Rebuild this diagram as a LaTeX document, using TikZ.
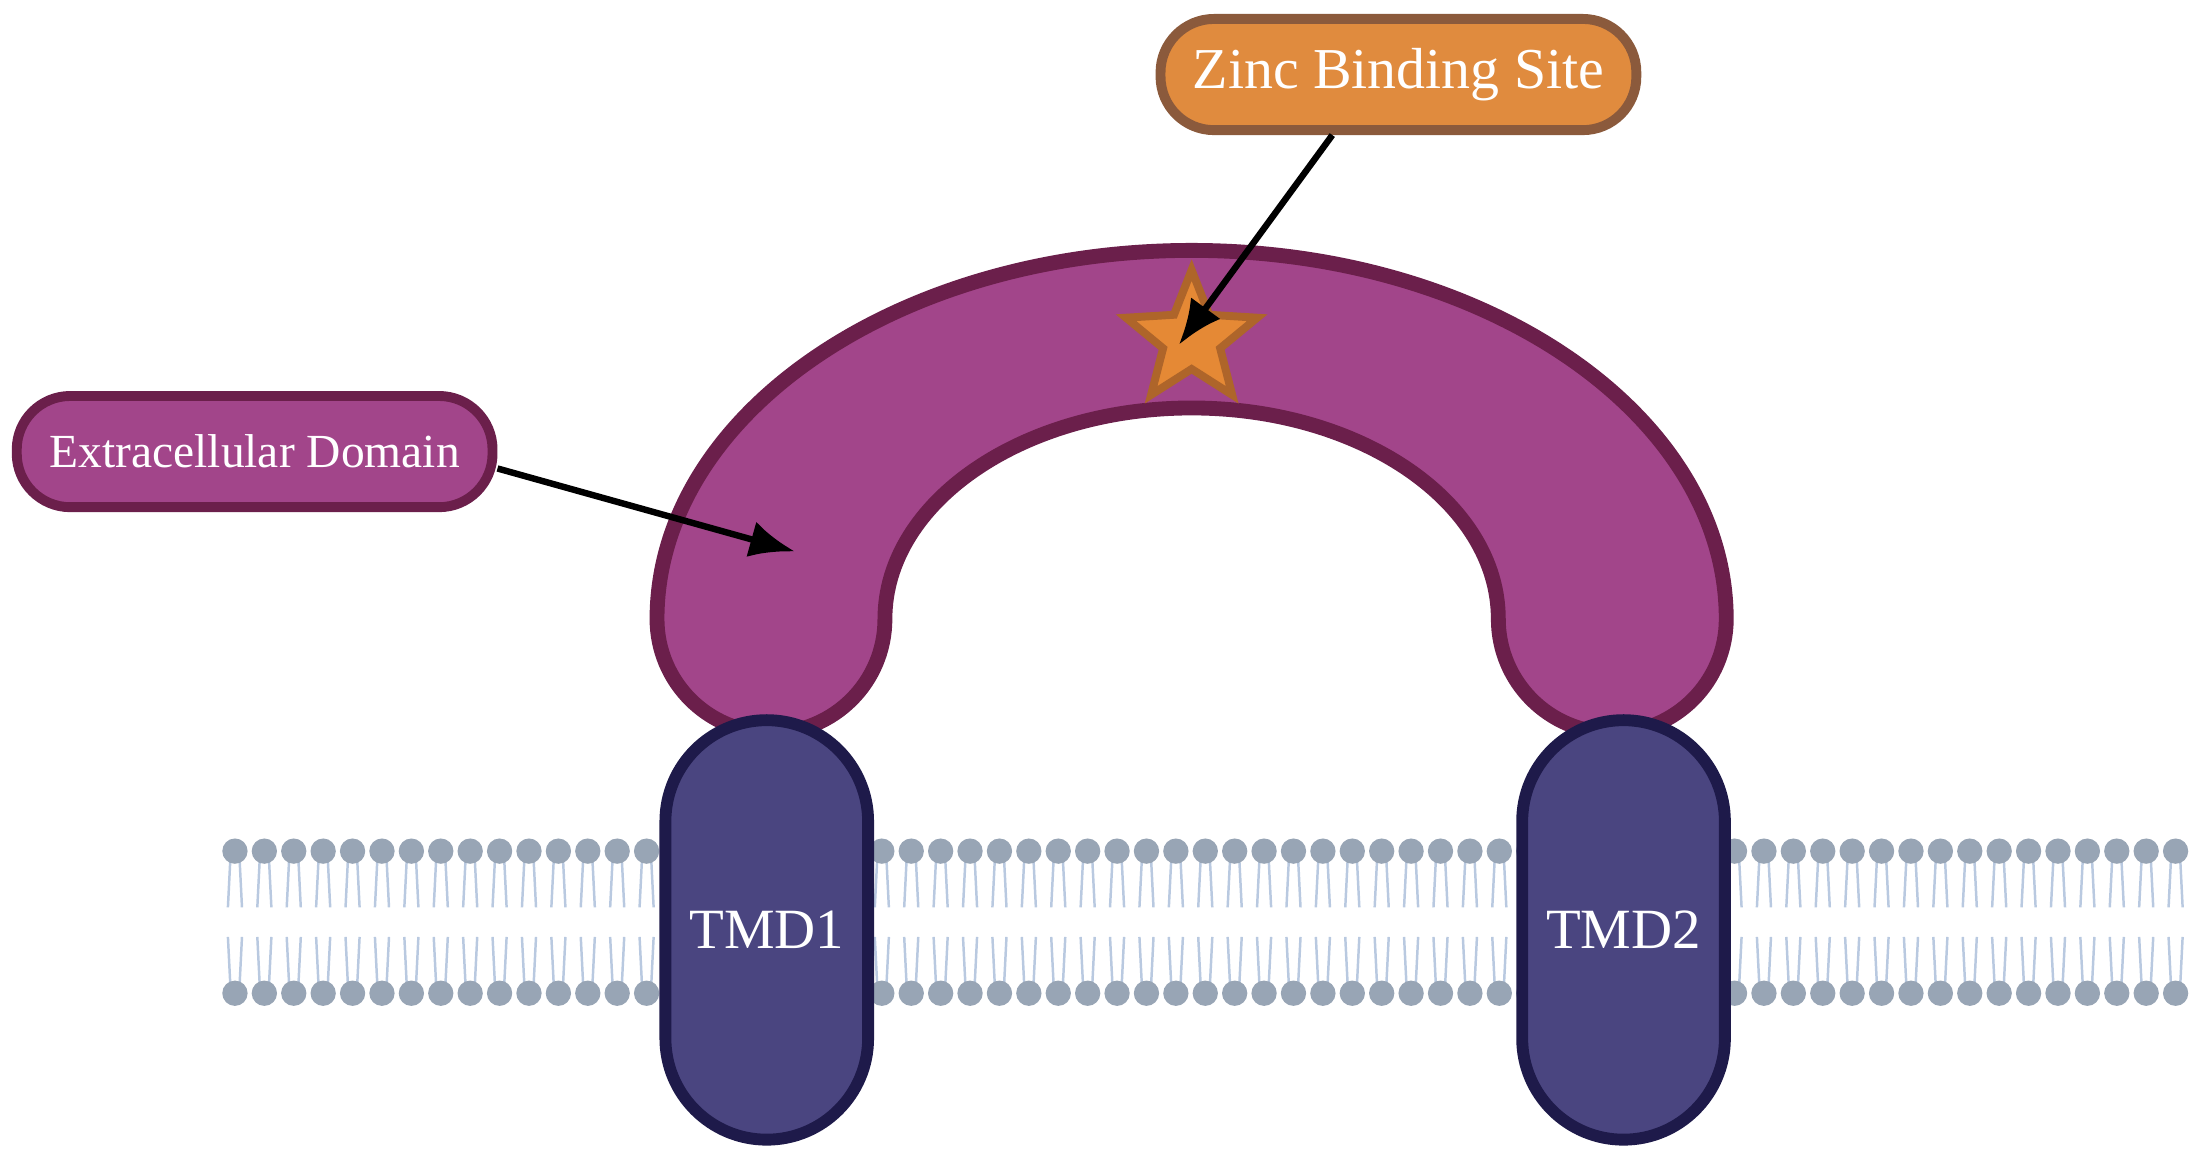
\documentclass[tikz,border=0pt]{standalone}
\usepackage{fontspec}
\setmainfont{Liberation Serif}
\usetikzlibrary{shapes.geometric,arrows.meta}
\definecolor{domain}{HTML}{A2458A}
\definecolor{domainedge}{HTML}{6B1F4B}
\definecolor{tmd}{HTML}{4A4580}
\definecolor{tmdedge}{HTML}{1E1A4A}
\definecolor{zinc}{HTML}{E08B3E}
\definecolor{zincedge}{HTML}{8B5A3C}
\definecolor{lipidhead}{HTML}{98A5B5}
\definecolor{lipidtail}{HTML}{B9C9E0}
\tikzset{
  label box/.style={rounded corners=0.38cm, line width=2pt, text=white, inner sep=0pt,
    minimum width=3.38cm, minimum height=0.79cm, font=\fontsize{9.6}{11}\selectfont},
  tm/.style={rounded corners=0.72cm, fill=tmd, draw=tmdedge, line width=2.4pt, inner sep=0pt,
    minimum width=1.44cm, minimum height=2.98cm, text=white, font=\fontsize{11.5}{13}\selectfont},
  pointer/.style={line width=1.3pt, -{Latex[length=0.32cm,width=0.26cm]}}
}
\begin{document}
\begin{tikzpicture}[x=0.01cm,y=0.01cm]
    \useasboundingbox (0,0) rectangle (1568,822);
    % membrane
    \foreach \i in {0,...,66} {
        \pgfmathsetmacro{\xx}{167+\i*20.9}
        \draw[lipidtail, line width=0.5pt] (\xx-3,217) -- (\xx-5,177) (\xx+3,217) -- (\xx+5,177);
        \draw[lipidtail, line width=0.5pt] (\xx-3,116) -- (\xx-5,156) (\xx+3,116) -- (\xx+5,156);
        \fill[lipidhead] (\xx,217) circle (9);
        \fill[lipidhead] (\xx,116) circle (9);
    }
    % extracellular domain
    \draw[fill=domain, draw=domainedge, line width=3pt]
        (467,382) arc[start angle=180, end angle=0, x radius=380, y radius=262]
        arc[start angle=0, end angle=-180, radius=81]
        arc[start angle=0, end angle=180, x radius=218, y radius=150]
        arc[start angle=0, end angle=-180, radius=81] -- cycle;
    % transmembrane domains
    \node[tm] (tmd1) at (545,161) {TMD1};
    \node[tm] (tmd2) at (1154,161) {TMD2};
    \node[star, star points=5, star point ratio=2.3, minimum size=0.98cm, inner sep=0pt,
        fill=zinc!85!orange, draw=zincedge!70!orange, line width=1.6pt] (zn) at (847,581) {};
    % labels
    \node[label box, fill=zinc, draw=zincedge, font=\fontsize{11.7}{13}\selectfont] (ztext) at (994,769) {Zinc Binding Site};
    \node[label box, fill=domain, draw=domainedge] (etext) at (181,501) {Extracellular Domain};
    \coordinate (ecd) at (565,430);
    \draw[pointer] (ztext.south) ++(-47,0) -- (838,577);
    \draw[pointer] (etext.east) ++(0,-12) -- (ecd);
\end{tikzpicture}
\end{document}
